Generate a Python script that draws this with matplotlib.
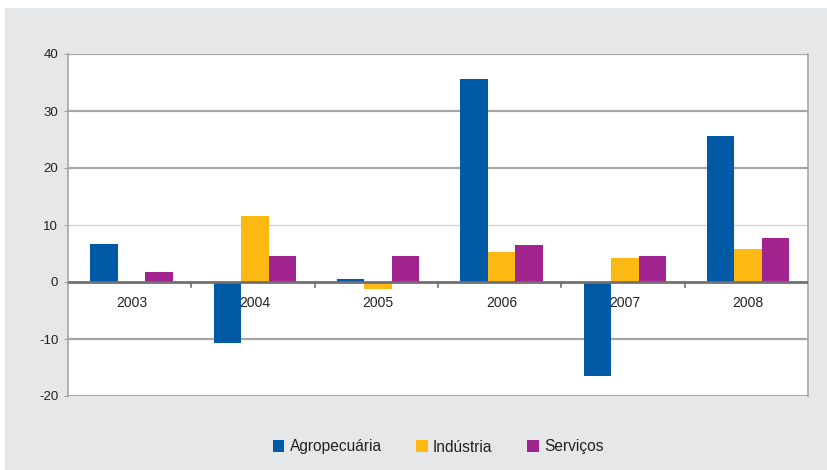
import matplotlib.pyplot as plt
import numpy as np
from matplotlib.patches import Rectangle

anos = ['2003', '2004', '2005', '2006', '2007', '2008']
agropecuaria = [6.6, -10.7, 0.5, 35.6, -16.5, 25.6]
industria = [-0.4, 11.6, -1.2, 5.3, 4.2, 5.8]
servicos = [1.7, 4.6, 4.5, 6.5, 4.6, 7.7]

plt.rcParams['font.family'] = ['Liberation Sans Narrow', 'Liberation Sans', 'DejaVu Sans']
plt.rcParams['axes.unicode_minus'] = False

fig = plt.figure(figsize=(8.28, 4.70), dpi=100)
fig.patches.append(Rectangle((5 / 828, 0), 1, 1 - 8 / 470, transform=fig.transFigure,
                             facecolor='#e6e7e9', edgecolor='none', zorder=-10))

ax = fig.add_axes([68 / 828, 1 - 396 / 470, 740 / 828, 342 / 470])
ax.set_facecolor('white')

x = np.arange(len(anos)) + 0.015
w = 0.223
ax.bar(x - w, agropecuaria, w, color='#005aa5', label='Agropecuária', zorder=3)
ax.bar(x, industria, w, color='#fdb913', label='Indústria', zorder=3)
ax.bar(x + w, servicos, w, color='#a0238e', label='Serviços', zorder=3)

ax.set_xlim(-0.5, len(anos) - 0.5)
ax.set_ylim(-20, 40)
ax.set_yticks(range(-20, 41, 10))
ax.tick_params(axis='y', labelsize=9.5, length=3, color='#a0a0a0', pad=4, labelcolor='#222222')

# grades
for v in [40, 30, 20, -10, -20]:
    ax.axhline(v, color='#a6a6a6', lw=1.6, zorder=1)
ax.axhline(10, color='#d6d6d6', lw=1.0, zorder=1)
ax.axhline(0, color='#707070', lw=2.0, zorder=4)

# rótulos das categorias logo abaixo do eixo zero
ax.set_xticks([])
for i, a in enumerate(anos):
    ax.text(i + 0.015, -3.7, a, ha='center', va='center', fontsize=10, color='#222222', zorder=5)
for i in range(1, len(anos)):
    ax.plot([i - 0.5, i - 0.5], [0, -0.9], color='#707070', lw=1.2, zorder=4)

for s in ['top', 'bottom']:
    ax.spines[s].set_visible(False)
for s in ['left', 'right']:
    ax.spines[s].set_color('#a6a6a6')
    ax.spines[s].set_linewidth(1.2)

fig.legend(loc='center', bbox_to_anchor=(438 / 828, 1 - 447 / 470), ncol=3, frameon=False,
           fontsize=11.2, handlelength=0.75, handleheight=0.75, handletextpad=0.35,
           columnspacing=2.2, labelcolor='#222222')

fig.savefig('out.png', dpi=100, facecolor='white')
